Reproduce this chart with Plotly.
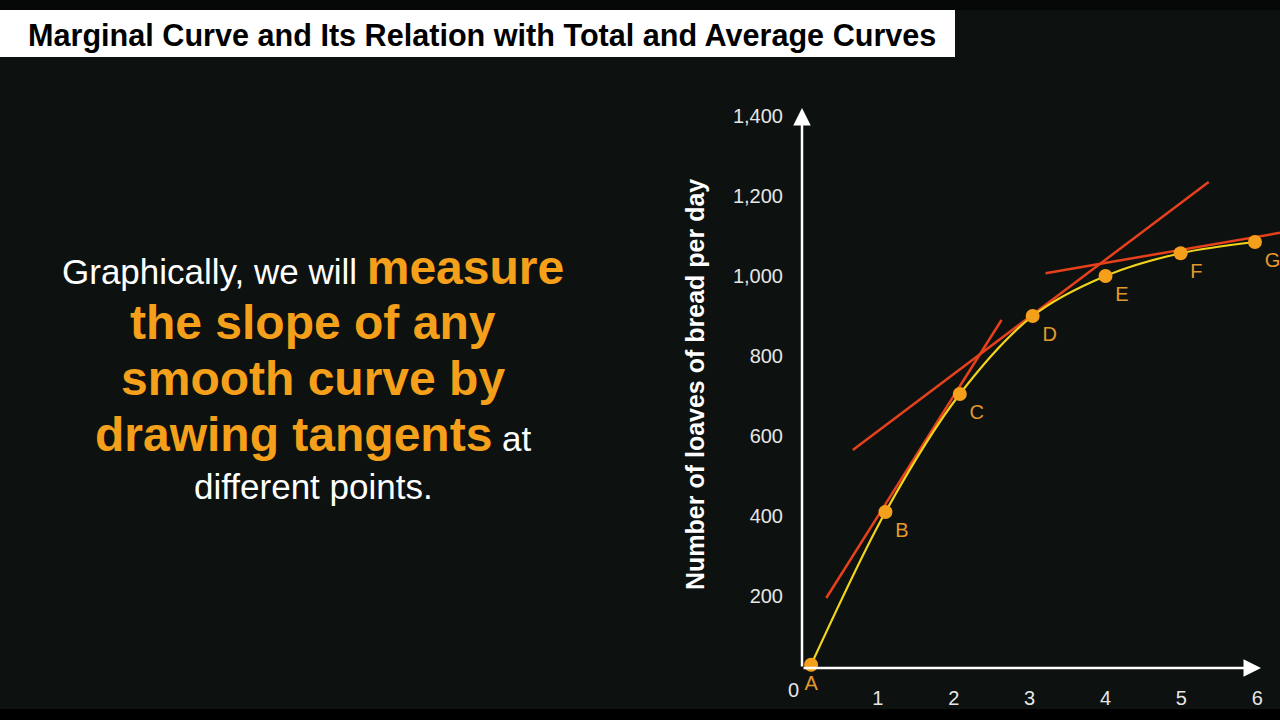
import plotly.graph_objects as go

# %% Data

point_labels = ["A", "B", "C", "D", "E", "F", "G"]
quantity = [0.12, 1.1, 2.08, 3.04, 4.0, 4.99, 5.97]
loaves = [28, 410, 705, 900, 1000, 1057, 1085]

# red tangent lines: (x0, x1), (y0, y1)
tangent_x = [[0.32, 2.63], [0.67, 5.36], [3.21, 6.3]]
tangent_y = [[195, 890], [565, 1235], [1007, 1108]]

y_ticks = [200, 400, 600, 800, 1000, 1200, 1400]
x_ticks = [1, 2, 3, 4, 5, 6]

title_text = "Marginal Curve and Its Relation with Total and Average Curves"
y_title = "Number of loaves of bread per day"

# %% Layout helpers (pixel -> paper coordinates)

W, H = 1280, 720
L, R, T, B = 802, 0, 108, 52
plot_w = W - L - R
plot_h = H - T - B


def px(x):
    return (x - L) / plot_w


def py(y):
    return (H - B - y) / plot_h


orange = "#f5a01a"
label_orange = "#e3992c"
yellow = "#f2d41c"
red = "#e6401c"
bg = "#0d1110"
font_family = "Liberation Sans, Arial, sans-serif"
label_positions = ["bottom center"] + ["bottom right"] * 6

# %% Figure

fig = go.Figure()

for tx, ty in zip(tangent_x, tangent_y):
    fig.add_trace(go.Scatter(
        x=tx, y=ty, mode="lines",
        line={"color": red, "width": 2.5},
        hoverinfo="skip", showlegend=False,
    ))

fig.add_trace(go.Scatter(
    x=quantity, y=loaves,
    mode="lines+markers+text",
    line={"color": yellow, "width": 2.2, "shape": "spline", "smoothing": 0.9},
    marker={"color": orange, "size": 14},
    text=point_labels,
    textposition=label_positions,
    textfont={"color": label_orange, "size": 20, "family": font_family},
    cliponaxis=False,
    showlegend=False,
))

fig.update_xaxes(
    range=[0, 6.3],
    tickvals=x_ticks,
    showgrid=False, zeroline=False, showline=False,
    tickfont={"color": "#e6e6e6", "size": 20, "family": font_family},
    ticklabelstandoff=16,
)
fig.update_yaxes(
    range=[20, 1420],
    tickvals=y_ticks,
    tickformat=",",
    showgrid=False, zeroline=False, showline=False,
    tickfont={"color": "#e6e6e6", "size": 20, "family": font_family},
    ticklabelstandoff=18,
)

annotations = [
    # axis arrows
    dict(x=6.05, y=20, ax=0, ay=20, xref="x", yref="y", axref="x", ayref="y",
         text="", showarrow=True, arrowhead=2, arrowsize=1.4, arrowwidth=2.5,
         arrowcolor="white"),
    dict(x=0, y=1420, ax=0, ay=20, xref="x", yref="y", axref="x", ayref="y",
         text="", showarrow=True, arrowhead=2, arrowsize=1.4, arrowwidth=2.5,
         arrowcolor="white"),
    # origin label
    dict(x=0, y=20, xref="x", yref="y", text="0", showarrow=False,
         xanchor="right", yanchor="middle", xshift=-1, yshift=-22,
         font={"color": "#e6e6e6", "size": 20, "family": font_family}),
    # y axis title
    dict(x=px(695), y=py(385), xref="paper", yref="paper", text=f"<b>{y_title}</b>",
         textangle=-90, showarrow=False, xanchor="center", yanchor="middle",
         font={"color": "white", "size": 25, "family": font_family}),
    # slide title
    dict(x=px(26), y=py(35), xref="paper", yref="paper", text=f"<b>{title_text}</b>",
         showarrow=False, xanchor="left", yanchor="middle",
         font={"color": "black", "size": 30.6, "family": font_family}),
]

bold = f'<span style="color:{orange};font-size:48px"><b>%s</b></span>'
text_lines = [
    ("Graphically, we will " + bold % "measure", 267),
    (bold % "the slope of any", 322),
    (bold % "smooth curve by", 379),
    (bold % "drawing tangents" + " at", 435),
    ("different points.", 486),
]
for line_text, y_px in text_lines:
    annotations.append(dict(
        x=px(313), y=py(y_px), xref="paper", yref="paper", text=line_text,
        showarrow=False, xanchor="center", yanchor="middle",
        font={"color": "white", "size": 35, "family": font_family},
    ))

shapes = [
    dict(type="rect", xref="paper", yref="paper",
         x0=px(0), x1=px(955), y0=py(57), y1=py(10),
         fillcolor="white", line={"width": 0}, layer="below"),
    dict(type="rect", xref="paper", yref="paper",
         x0=px(0), x1=px(1280), y0=py(720), y1=py(709),
         fillcolor="black", line={"width": 0}, layer="below"),
    dict(type="rect", xref="paper", yref="paper",
         x0=px(0), x1=px(1280), y0=py(10), y1=py(0),
         fillcolor="#050707", line={"width": 0}, layer="below"),
]

fig.update_layout(
    width=W, height=H,
    margin={"l": L, "r": R, "t": T, "b": B},
    paper_bgcolor=bg,
    plot_bgcolor="rgba(0,0,0,0)",
    annotations=annotations,
    shapes=shapes,
    font={"family": font_family},
)

fig.write_html(
    "out.html",
    config={"displayModeBar": False},
    post_script=(
        "document.body.style.margin='0';"
        "document.body.style.overflow='hidden';"
        f"document.body.style.background='{bg}';"
    ),
)
